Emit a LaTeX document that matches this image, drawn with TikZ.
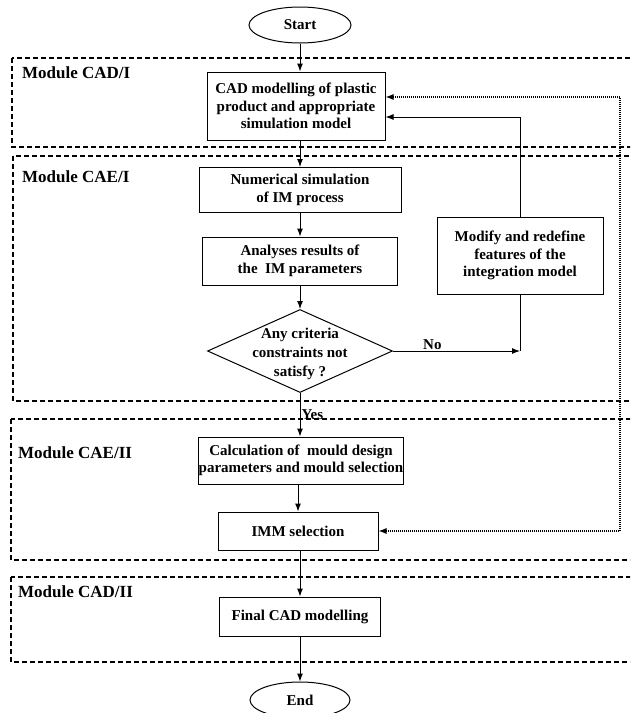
\documentclass[tikz,border=0pt]{standalone}
\usepackage{fontspec}
\setmainfont{Liberation Serif}
\usepackage{tikz}
\usetikzlibrary{arrows.meta,positioning,shapes.geometric}

\begin{document}
\begin{tikzpicture}[x=1pt, y=-1pt,
		font=\bfseries\fontsize{15}{17.5}\selectfont,
		>={Latex[length=8pt,width=6pt]},
		box/.style={draw, line width=1pt, align=center, inner sep=2pt},
		terminal/.style={draw, ellipse, line width=1pt, minimum width=102pt, minimum height=36pt, inner sep=0pt},
		decision/.style={draw, diamond, line width=1pt, minimum width=185pt, minimum height=83pt, inner sep=0pt},
		flow/.style={->, line width=1pt},
		fback/.style={<->, line width=1.1pt, dash pattern=on 1pt off 1pt},
		module/.style={line width=2.4pt, dash pattern=on 5pt off 3pt},
		modlabel/.style={anchor=west, inner sep=0pt, font=\bfseries\fontsize{17}{20}\selectfont}]
				\path[use as bounding box, clip] (0,0) rectangle (630,713);

				\draw[module] (12,58) rectangle (640,147);
				\draw[module] (13,156) rectangle (640,401);
				\draw[module] (11,419) rectangle (640,560);
				\draw[module] (11,577) rectangle (640,662);

				\node[modlabel] (labcadi) at (22,73) {Module CAD/I};
				\node[modlabel] (labcaei) at (22,177) {Module CAE/I};
				\node[modlabel] (labcaeii) at (18,453) {Module CAE/II};
				\node[modlabel] (labcadii) at (18,592) {Module CAD/II};

				\node[terminal] (start) at (300,25) {Start};
				\node[box, minimum width=178pt, minimum height=68pt] (cad) at (296,106) {CAD modelling of plastic\\product and appropriate\\simulation model};
				\node[box, minimum width=202pt, minimum height=45pt] (numsim) at (300,190) {Numerical simulation\\of IM process};
				\node[box, minimum width=195pt, minimum height=48pt] (analyse) at (300,261) {Analyses results of\\the~ IM parameters};
				\node[decision] (crit) at (300,351) {};
				\node[align=center, inner sep=0pt, font=\bfseries\fontsize{15}{19}\selectfont] (crittext) at (300,354) {Any criteria\\constraints not\\satisfy ?};
				\node[box, minimum width=166pt, minimum height=77pt] (modify) at (520,255.5) {Modify and redefine\\features of the\\integration model};
				\node[box, inner xsep=0pt, minimum width=202pt, minimum height=47pt] (mould) at (301,460.5) {Calculation of~ mould design\\parameters and mould selection};
				\node[box, minimum width=160pt, minimum height=38pt] (imm) at (298,531) {IMM selection};
				\node[box, minimum width=161pt, minimum height=39pt] (final) at (300,616.5) {Final CAD modelling};
				\node[terminal, minimum width=100pt] (end) at (300,700) {End};
				\coordinate (fbright) at (620,300);

				\draw[flow] (start) -- (cad.north -| start);
				\draw[flow] (cad.south -| numsim) -- (numsim);
				\draw[flow] (numsim) -- (analyse);
				\draw[flow] (analyse) -- (crit);
				\draw[flow] (crit.east) -- (modify |- crit) node[pos=0.31, above, inner sep=1pt] (no) {No};
				\draw[line width=1pt] (modify.south) -- (modify |- crit);
				\draw[flow] (modify.north) |- ([yshift=-11pt]cad.east);
				\draw[flow] (crit.south) -- (mould.north -| crit) node[pos=0.5, right, inner sep=1pt] (yes) {Yes};
				\draw[flow] (mould.south -| imm) -- (imm);
				\draw[flow] (imm.south -| final) -- (final);
				\draw[flow] (final) -- (end);
				\draw[fback] ([yshift=9pt]cad.east) -| (fbright) |- (imm.east);
		\end{tikzpicture}
\end{document}
